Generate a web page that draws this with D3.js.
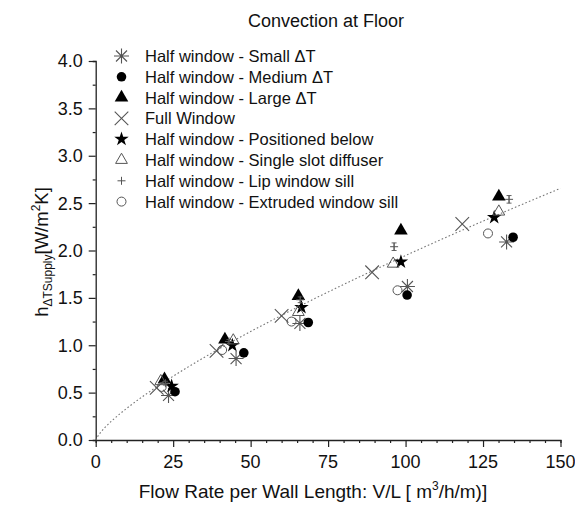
<!DOCTYPE html>
<html>
<head>
<meta charset="utf-8">
<script src="https://cdn.jsdelivr.net/npm/d3@7"></script>
<style>
  html, body { margin: 0; padding: 0; background: #fff; }
  svg { display: block; font-family: "Liberation Sans", Arial, sans-serif; }
</style>
</head>
<body>
<svg id="chart" width="575" height="509"></svg>
<script>
// Measured heat-transfer coefficients, [flow rate V/L, h]
const smallDT    = [[23.5, 0.47], [45.3, 0.86], [65.9, 1.23], [100.6, 1.62], [132.6, 2.09]];
const mediumDT   = [[25.6, 0.51], [47.8, 0.92], [68.6, 1.24], [100.5, 1.53], [134.7, 2.14]];
const largeDT    = [[22.2, 0.64], [41.7, 1.06], [65.4, 1.52], [98.5, 2.21], [130.1, 2.57]];
const fullWindow = [[19.7, 0.55], [39.0, 0.94], [60.0, 1.31], [89.2, 1.77], [118.3, 2.28]];
const posBelow   = [[24.5, 0.57], [44.1, 1.00], [66.4, 1.40], [98.5, 1.88], [128.6, 2.35]];
const singleSlot = [[21.0, 0.62], [44.4, 1.05], [65.4, 1.35], [96.0, 1.86], [130.1, 2.41]];
const lipSill    = [[22.5, 0.60], [43.0, 1.04], [66.0, 1.48], [96.3, 2.04], [133.4, 2.54]];
const lipSillErr = [0.02, 0.02, 0.03, 0.04, 0.04];
const extruded   = [[21.3, 0.56], [40.8, 0.95], [63.2, 1.25], [97.4, 1.58], [126.6, 2.18]];

// Power-law fit h = a * (V/L)^b
const fitA = 0.0572, fitB = 0.766;

const xTicks = [0, 25, 50, 75, 100, 125, 150];
const yTicks = [0, 0.5, 1.0, 1.5, 2.0, 2.5, 3.0, 3.5, 4.0];

const series = [
  {name: "Half window - Small \u0394T",        data: smallDT,    sym: "asterisk"},
  {name: "Half window - Medium \u0394T",       data: mediumDT,   sym: "dot"},
  {name: "Half window - Large \u0394T",        data: largeDT,    sym: "tri"},
  {name: "Full Window",                        data: fullWindow, sym: "cross"},
  {name: "Half window - Positioned below",     data: posBelow,   sym: "star"},
  {name: "Half window - Single slot diffuser", data: singleSlot, sym: "opentri"},
  {name: "Half window - Lip window sill",      data: lipSill,    sym: "plus", err: lipSillErr},
  {name: "Half window - Extruded window sill", data: extruded,   sym: "ring"}
];

const svg = d3.select("#chart");
const x = d3.scaleLinear().domain([0, 150]).range([95.7, 560.5]);
const y = d3.scaleLinear().domain([0, 4]).range([440, 61]);

// Axes with outward major and minor ticks
const xAxis = svg.append("g").attr("transform", `translate(0,${y(0)})`)
  .call(d3.axisBottom(x).tickValues(d3.range(0, 151, 5)).tickSize(3).tickFormat(""));
xAxis.selectAll(".tick line").filter(d => d % 25 === 0).attr("y2", 7);
xAxis.append("g").selectAll("text").data(xTicks).join("text")
  .attr("x", d => x(d)).attr("y", 28).attr("text-anchor", "middle")
  .attr("fill", "#111").attr("font-size", 18).text(d => d);

const yAxis = svg.append("g").attr("transform", `translate(${x(0)},0)`)
  .call(d3.axisLeft(y).tickValues(d3.range(0, 4.01, 0.25)).tickSize(3).tickFormat(""));
yAxis.selectAll(".tick line").filter(d => Math.abs(d * 2 - Math.round(d * 2)) < 1e-6).attr("x2", -7);
yAxis.append("g").selectAll("text").data(yTicks).join("text")
  .attr("x", -13).attr("y", d => y(d)).attr("dy", "0.36em").attr("text-anchor", "end")
  .attr("fill", "#111").attr("font-size", 18).text(d => d.toFixed(1));

svg.selectAll(".domain").attr("stroke", "#222").attr("stroke-width", 1.3);
svg.selectAll(".tick line").attr("stroke", "#222").attr("stroke-width", 1.2);

// Fitted curve
const fitPts = d3.range(0, 150.01, 1).map(v => [v, fitA * Math.pow(v, fitB)]);
svg.append("path").datum(fitPts)
  .attr("d", d3.line().x(d => x(d[0])).y(d => y(d[1])))
  .attr("fill", "none").attr("stroke", "#777").attr("stroke-width", 1.1)
  .attr("stroke-dasharray", "1.6,2.2");

// Marker drawing
function marker(g, sym) {
  const grey = "#555";
  switch (sym) {
    case "asterisk": {
      const r = 7.5, d = 5.5;
      g.append("path").attr("d", `M0,${-r}V${r}M${-d},${-d}L${d},${d}M${-d},${d}L${d},${-d}M${-r},0H${r}`)
        .attr("stroke", grey).attr("stroke-width", 1.1).attr("fill", "none");
      break;
    }
    case "dot":
      g.append("circle").attr("r", 4.8).attr("fill", "#000");
      break;
    case "tri":
      g.append("path").attr("d", d3.symbol(d3.symbolTriangle, 80)()).attr("fill", "#000");
      break;
    case "cross": {
      const r = 6.8;
      g.append("path").attr("d", `M${-r},${-r}L${r},${r}M${-r},${r}L${r},${-r}`)
        .attr("stroke", grey).attr("stroke-width", 1.1).attr("fill", "none");
      break;
    }
    case "star":
      g.append("path").attr("d", d3.symbol(d3.symbolStar, 65)()).attr("fill", "#000");
      break;
    case "opentri":
      g.append("path").attr("d", d3.symbol(d3.symbolTriangle, 60)())
        .attr("fill", "none").attr("stroke", grey).attr("stroke-width", 1);
      break;
    case "plus": {
      const r = 4;
      g.append("path").attr("d", `M0,${-r}V${r}M${-r},0H${r}`)
        .attr("stroke", grey).attr("stroke-width", 1).attr("fill", "none");
      break;
    }
    case "ring":
      g.append("circle").attr("r", 4.5).attr("fill", "none").attr("stroke", grey).attr("stroke-width", 1);
      break;
  }
}

// Data points
const plot = svg.append("g");
series.forEach(s => {
  s.data.forEach((p, i) => {
    const g = plot.append("g").attr("transform", `translate(${x(p[0])},${y(p[1])})`);
    if (s.err) {
      const e = s.err[i];
      const top = y(p[1] + e) - y(p[1]), bot = y(p[1] - e) - y(p[1]);
      g.append("path").attr("d", `M0,${top}V${bot}M-2.5,${top}H2.5M-2.5,${bot}H2.5`)
        .attr("stroke", "#555").attr("stroke-width", 0.9).attr("fill", "none");
    }
    marker(g, s.sym);
  });
});

// Title
svg.append("text").attr("x", 326).attr("y", 27).attr("text-anchor", "middle")
  .attr("font-size", 18).attr("fill", "#111").text("Convection at Floor");

// Legend
const legend = svg.append("g");
series.forEach((s, i) => {
  const yy = 56 + i * 20.8;
  const g = legend.append("g").attr("transform", `translate(121.5,${yy})`);
  marker(g, s.sym);
  legend.append("text").attr("x", 145).attr("y", yy).attr("dy", "0.36em")
    .attr("font-size", 16.5).attr("fill", "#111").text(s.name);
});

// Axis titles
const xt = svg.append("text").attr("x", 313).attr("y", 498).attr("text-anchor", "middle")
  .attr("font-size", 19).attr("fill", "#111");
xt.append("tspan").text("Flow Rate per Wall Length: V/L [ m");
xt.append("tspan").attr("font-size", 12).attr("dy", -8).text("3");
xt.append("tspan").attr("dy", 8).text("/h/m)]");

const yt = svg.append("text").attr("transform", "translate(48,252) rotate(-90)")
  .attr("text-anchor", "middle").attr("font-size", 18.5).attr("fill", "#111");
yt.append("tspan").text("h");
yt.append("tspan").attr("font-size", 12).attr("dy", 4).text("\u0394TSupply");
yt.append("tspan").attr("dy", -4).text("[W/m");
yt.append("tspan").attr("font-size", 12).attr("dy", -8).text("2");
yt.append("tspan").attr("dy", 8).text("K]");
</script>
</body>
</html>
